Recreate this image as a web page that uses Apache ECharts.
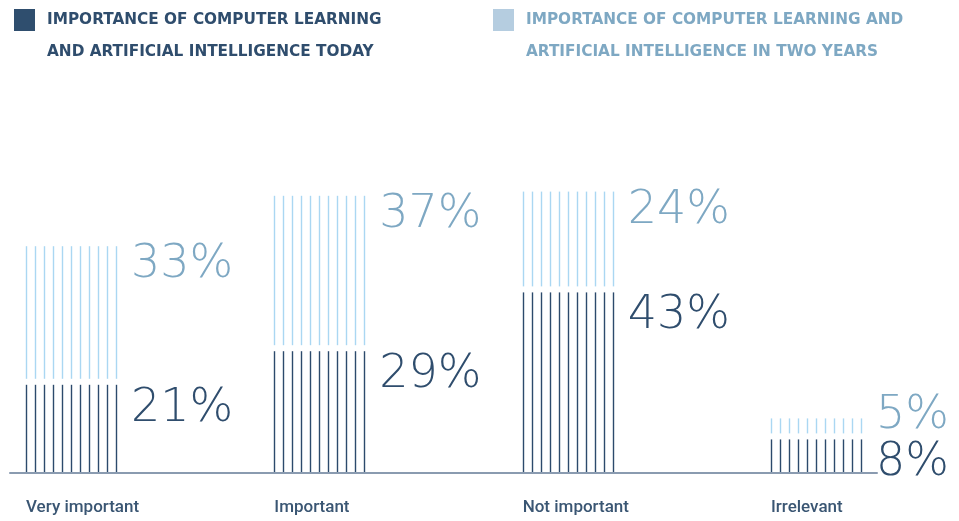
<!DOCTYPE html>
<html>
<head>
<meta charset="utf-8">
<script src="https://cdn.jsdelivr.net/npm/echarts@6/dist/echarts.min.js"></script>
<style>
html, body { margin: 0; padding: 0; background: #fff; }
#box { width: 959px; height: 521px; }
</style>
</head>
<body>
<div id="box"></div>
<script>
var categories = ['Very important', 'Important', 'Not important', 'Irrelevant'];
var today = [21, 29, 43, 8];
var twoYears = [33, 37, 24, 5];
var nameToday = 'IMPORTANCE OF COMPUTER LEARNING\nAND ARTIFICIAL INTELLIGENCE TODAY';
var nameTwoYears = 'IMPORTANCE OF COMPUTER LEARNING AND\nARTIFICIAL INTELLIGENCE IN TWO YEARS';

var darkLine = '#2c4a6c';
var lightLine = '#aad7f2';
var darkText = '#2f4d6d';
var lightText = '#7ea8c3';
var pctFont = '200 46px "DejaVu Sans"';

var BAR_W = 90, LINES = 11;

function stripes(x0, yTop, yBot, color) {
    var kids = [];
    var step = BAR_W / (LINES - 1);
    for (var k = 0; k < LINES; k++) {
        var x = Math.round(x0 + k * step) + 0.5;
        kids.push({
            type: 'line',
            shape: { x1: x, y1: yTop, x2: x, y2: yBot },
            style: { stroke: color, lineWidth: 1.4 }
        });
    }
    return kids;
}

// label of the dark part sits a bit under its top
function darkLabelY(api, i) {
    return api.coord([i, today[i]])[1] + 24;
}

function legendText(color) {
    return { color: color, fontFamily: 'DejaVu Sans', fontWeight: 'bold', fontSize: 15.3, lineHeight: 32, padding: [0, 0, 0, 7] };
}

var myChart = echarts.init(document.getElementById('box'));
var option = {
    backgroundColor: '#fff',
    animation: false,
    legend: [{
        data: [nameToday],
        left: 14, top: -28, padding: 0,
        icon: 'rect', itemWidth: 21, itemHeight: 22,
        formatter: function (name) { return '\n' + name; },
        textStyle: legendText(darkText)
    }, {
        data: [nameTwoYears],
        left: 493, top: -28, padding: 0,
        icon: 'rect', itemWidth: 21, itemHeight: 22,
        formatter: function (name) { return '\n' + name; },
        textStyle: legendText(lightText)
    }],
    grid: { left: 10, right: 82, top: 137, bottom: 48 },
    xAxis: {
        type: 'value', min: -0.2457, max: 3.2457,
        axisLine: { show: true, lineStyle: { color: '#8a9bb0', width: 2 } },
        axisTick: { show: false }, axisLabel: { show: false }, splitLine: { show: false }
    },
    yAxis: {
        type: 'value', min: 0, max: 80, show: false
    },
    series: [{
        name: nameToday,
        type: 'custom',
        color: '#2f4e6e',
        data: today.map(function (v, i) { return [i, v]; }),
        renderItem: function (params, api) {
            var i = api.value(0);
            var base = api.coord([i, 0]);
            var top = api.coord([i, api.value(1)]);
            var x0 = base[0] - BAR_W / 2;
            var kids = stripes(x0, top[1], base[1] - 1, darkLine);
            kids.push({
                type: 'text',
                style: { text: api.value(1) + '%', x: x0 + BAR_W + 15, y: darkLabelY(api, i), font: pctFont, fill: darkText, align: 'left', verticalAlign: 'middle' }
            });
            kids.push({
                type: 'text',
                style: { text: categories[i], x: x0, y: base[1] + 35, fontFamily: 'Roboto', fontWeight: 500, fontSize: 17, fill: '#3a5673', align: 'left', verticalAlign: 'middle' }
            });
            return { type: 'group', children: kids };
        }
    }, {
        name: nameTwoYears,
        type: 'custom',
        color: '#b5cde0',
        data: twoYears.map(function (v, i) { return [i, today[i], v]; }),
        renderItem: function (params, api) {
            var i = api.value(0);
            var lo = api.value(1), v = api.value(2);
            var bot = api.coord([i, lo]);
            var top = api.coord([i, lo + v]);
            var x0 = bot[0] - BAR_W / 2;
            var kids = stripes(x0, top[1], bot[1] - 6, lightLine);
            var y = Math.min(top[1] + 19, darkLabelY(api, i) - 47);
            kids.push({
                type: 'text',
                style: { text: v + '%', x: x0 + BAR_W + 15, y: y, font: pctFont, fill: lightText, align: 'left', verticalAlign: 'middle' }
            });
            return { type: 'group', children: kids };
        }
    }]
};
myChart.setOption(option);
</script>
</body>
</html>
